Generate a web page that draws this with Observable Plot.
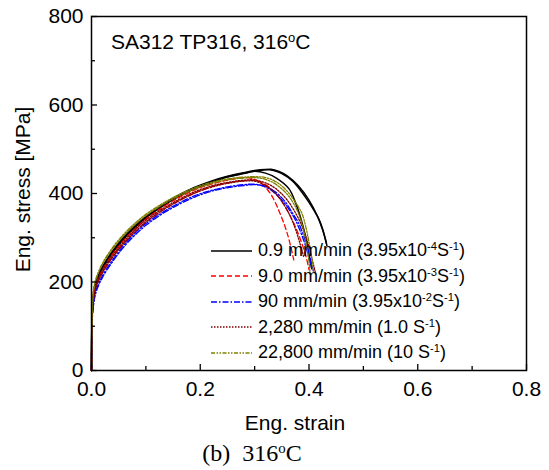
<!DOCTYPE html>
<html><head><meta charset="utf-8">
<script src="https://cdn.jsdelivr.net/npm/d3@7"></script>
<script src="https://cdn.jsdelivr.net/npm/@observablehq/plot@0.6"></script>
<style>
body{margin:0;background:#fff;}
#wrap{position:relative;width:549px;height:470px;font-family:"Liberation Sans",Arial,sans-serif;color:#000;background:#fff;}
#wrap svg{display:block;}
sup{font-size:0.62em;line-height:0;vertical-align:0.55em;}
.ann{position:absolute;left:111px;top:31px;font-size:21px;line-height:21px;white-space:nowrap;}
.legend{position:absolute;left:211px;top:238px;font-size:18px;}
.legend .row{display:flex;align-items:center;height:25.5px;white-space:nowrap;}
.legend svg{margin-right:6px;}
.cap{position:absolute;left:0;width:504px;top:439px;text-align:center;font-family:"Liberation Serif","Times New Roman",serif;font-size:24px;line-height:28px;white-space:pre;}
</style></head><body><div id="wrap"></div>
<script>
// ---- data (Eng. strain, Eng. stress [MPa]) ----
const xMajor = [0, 0.2, 0.4, 0.6, 0.8];
const xMinor = [0.1, 0.3, 0.5, 0.7];
const yMajor = [0, 200, 400, 600, 800];
const yMinor = [100, 300, 500, 700];

const seriesNames = [
  "0.9 mm/min (3.95x10<sup>-4</sup>S<sup>-1</sup>)",
  "9.0 mm/min (3.95x10<sup>-3</sup>S<sup>-1</sup>)",
  "90 mm/min (3.95x10<sup>-2</sup>S<sup>-1</sup>)",
  "2,280 mm/min (1.0 S<sup>-1</sup>)",
  "22,800 mm/min (10 S<sup>-1</sup>)"
];
const seriesColors = ["#000000", "#ff0000", "#0000ff", "#800000", "#808000"];
const seriesDash = [null, "5,3", "6,2,1.5,2", "1.5,1.5", "4,1.5,1.5,1.5,1.5,1.5"];
const seriesWidth = [1.5, 1.3, 1.3, 1.3, 1.3];

const blackRun1 = [[0,0],[0.001,120],[0.003,165],[0.006,190],[0.01,207],[0.02,234],[0.04,272],[0.06,302],[0.08,327],[0.10,348],[0.13,374],[0.16,396],[0.19,414],[0.22,428],[0.25,439],[0.28,447],[0.30,452],[0.32,454],[0.335,452],[0.35,445],[0.37,428],[0.387,403],[0.40,380],[0.41,360],[0.418,343],[0.425,320],[0.433,282]];
const blackRun2 = [[0,0],[0.001,118],[0.003,163],[0.006,188],[0.01,205],[0.02,232],[0.04,270],[0.06,300],[0.08,325],[0.10,346],[0.13,372],[0.16,394],[0.19,412],[0.22,426],[0.25,438],[0.28,446],[0.31,452],[0.33,455],[0.345,450],[0.36,440],[0.38,418],[0.40,385],[0.415,350],[0.425,318],[0.432,288]];
const blackRun3 = [[0,0],[0.001,118],[0.003,160],[0.006,186],[0.01,203],[0.02,230],[0.04,268],[0.06,298],[0.08,323],[0.10,345],[0.13,371],[0.16,393],[0.19,411],[0.22,425],[0.25,437],[0.28,445],[0.30,450],[0.32,446],[0.34,435],[0.363,411],[0.375,380],[0.387,335],[0.395,295],[0.40,260],[0.405,230]];
const redRun1 = [[0,0],[0.001,115],[0.003,158],[0.006,183],[0.01,200],[0.02,227],[0.04,265],[0.06,295],[0.08,320],[0.10,342],[0.13,368],[0.16,390],[0.19,408],[0.22,421],[0.25,430],[0.28,436],[0.30,432],[0.315,420],[0.33,398],[0.345,360],[0.36,310],[0.372,250]];
const redRun2 = [[0,0],[0.001,112],[0.003,152],[0.006,177],[0.01,194],[0.02,220],[0.04,258],[0.06,288],[0.08,313],[0.10,335],[0.13,361],[0.16,383],[0.19,401],[0.22,415],[0.25,424],[0.28,429],[0.30,430],[0.32,420],[0.34,398],[0.36,362],[0.38,310],[0.395,255],[0.40,228]];
const blueRun1 = [[0,0],[0.001,105],[0.003,140],[0.006,165],[0.01,183],[0.02,210],[0.04,248],[0.06,280],[0.08,306],[0.10,328],[0.13,354],[0.16,375],[0.19,392],[0.22,405],[0.25,413],[0.28,418],[0.30,420],[0.32,416],[0.34,402],[0.357,380],[0.37,355],[0.38,335],[0.39,305],[0.40,265],[0.408,225]];
const blueRun2 = [[0,0],[0.001,108],[0.003,145],[0.006,170],[0.01,187],[0.02,214],[0.04,252],[0.06,284],[0.08,310],[0.10,332],[0.13,357],[0.16,378],[0.19,395],[0.22,407],[0.25,415],[0.28,420],[0.30,421],[0.32,415],[0.34,398],[0.36,370],[0.375,340],[0.39,295],[0.40,255],[0.405,232]];
const maroonRun1 = [[0,0],[0.001,115],[0.003,155],[0.006,180],[0.01,198],[0.02,225],[0.04,262],[0.06,292],[0.08,318],[0.10,340],[0.13,365],[0.16,386],[0.19,404],[0.22,417],[0.25,425],[0.28,430],[0.30,430],[0.32,424],[0.34,410],[0.36,385],[0.38,345],[0.395,300],[0.405,255],[0.412,220]];
const maroonRun2 = [[0,0],[0.001,112],[0.003,150],[0.006,176],[0.01,194],[0.02,221],[0.04,258],[0.06,288],[0.08,314],[0.10,336],[0.13,362],[0.16,383],[0.19,401],[0.22,414],[0.25,423],[0.28,428],[0.30,428],[0.32,418],[0.34,398],[0.36,362],[0.375,320],[0.39,258]];
const oliveRun1 = [[0,0],[0.001,130],[0.003,175],[0.006,198],[0.01,214],[0.02,242],[0.04,280],[0.06,309],[0.08,333],[0.10,353],[0.13,377],[0.16,397],[0.19,413],[0.22,425],[0.25,433],[0.28,437],[0.30,438],[0.32,436],[0.34,426],[0.36,405],[0.375,380],[0.387,355],[0.395,320],[0.40,290],[0.405,255],[0.408,225]];
const oliveRun2 = [[0,0],[0.001,128],[0.003,172],[0.006,196],[0.01,212],[0.02,240],[0.04,277],[0.06,306],[0.08,330],[0.10,350],[0.13,374],[0.16,394],[0.19,410],[0.22,422],[0.25,431],[0.28,435],[0.30,436],[0.32,432],[0.34,420],[0.36,398],[0.375,370],[0.385,340],[0.393,300],[0.40,245],[0.402,218]];

const runs = [
  {s: 0, pts: blackRun1}, {s: 0, pts: blackRun2}, {s: 0, pts: blackRun3},
  {s: 1, pts: redRun1}, {s: 1, pts: redRun2},
  {s: 2, pts: blueRun1}, {s: 2, pts: blueRun2},
  {s: 3, pts: maroonRun1}, {s: 3, pts: maroonRun2},
  {s: 4, pts: oliveRun1}, {s: 4, pts: oliveRun2}
];

// ---- build table ----
const rows = [];
runs.forEach((r, ri) => r.pts.forEach(([x, y]) => rows.push({run: ri, s: r.s, x, y})));

const W = 549, H = 436, axisY0 = 370, frameTop = 16;
const frameH = axisY0 - frameTop;

const lineMarks = seriesNames.map((_, si) =>
  Plot.line(rows.filter(d => d.s === si), {
    x: "x", y: "y", z: "run",
    stroke: seriesColors[si],
    strokeWidth: seriesWidth[si],
    strokeDasharray: seriesDash[si] || undefined,
    curve: "catmull-rom"
  })
);

const chart = Plot.plot({
  width: W, height: H,
  marginLeft: 91, marginRight: 23, marginTop: frameTop, marginBottom: H - axisY0,
  style: {fontFamily: "Liberation Sans, Arial, sans-serif", fontSize: "21px", color: "#000", background: "#fff", overflow: "visible"},
  x: {domain: [0, 0.8]},
  y: {domain: [0, 800]},
  marks: [
    ...lineMarks,
    Plot.frame({stroke: "#000", strokeWidth: 1.5}),
    Plot.tickX(xMajor, {x: d => d, insetTop: frameH - 6, stroke: "#000", strokeWidth: 1.3}),
    Plot.tickX(xMinor, {x: d => d, insetTop: frameH - 4, stroke: "#000", strokeWidth: 1.3}),
    Plot.tickY(yMajor, {y: d => d, insetRight: (W - 91 - 23) - 6, stroke: "#000", strokeWidth: 1.3}),
    Plot.tickY(yMinor, {y: d => d, insetRight: (W - 91 - 23) - 4, stroke: "#000", strokeWidth: 1.3}),
    Plot.axisX(xMajor, {tickSize: 0, tickPadding: 11, tickFormat: d => d.toFixed(1), fontSize: 21, label: null}),
    Plot.axisY(yMajor, {tickSize: 0, tickPadding: 8, tickFormat: d => String(d), fontSize: 21, label: null}),
    Plot.text(["Eng. strain"], {text: d => d, frameAnchor: "bottom", lineAnchor: "middle", textAnchor: "middle", dy: 53, dx: -14, fontSize: 21}),
    Plot.text(["Eng. stress [MPa]"], {text: d => d, frameAnchor: "left", textAnchor: "middle", lineAnchor: "middle", rotate: -90, dx: -68, dy: -4, fontSize: 21})
  ]
});

const wrap = document.getElementById("wrap");
wrap.appendChild(chart);

// annotation
const ann = document.createElement("div");
ann.className = "ann";
ann.innerHTML = "SA312 TP316, 316<sup>o</sup>C";
wrap.appendChild(ann);

// legend
const leg = document.createElement("div");
leg.className = "legend";
seriesNames.forEach((name, si) => {
  const row = document.createElement("div");
  row.className = "row";
  const dash = seriesDash[si] ? ` stroke-dasharray="${seriesDash[si]}"` : "";
  row.innerHTML = `<svg width="41" height="10"><line x1="0" y1="5" x2="41" y2="5" stroke="${seriesColors[si]}" stroke-width="${seriesWidth[si]}"${dash}/></svg><span>${name}</span>`;
  leg.appendChild(row);
});
wrap.appendChild(leg);

// caption
const cap = document.createElement("div");
cap.className = "cap";
cap.innerHTML = "(b)  316<sup>o</sup>C";
wrap.appendChild(cap);
</script>
</body></html>
